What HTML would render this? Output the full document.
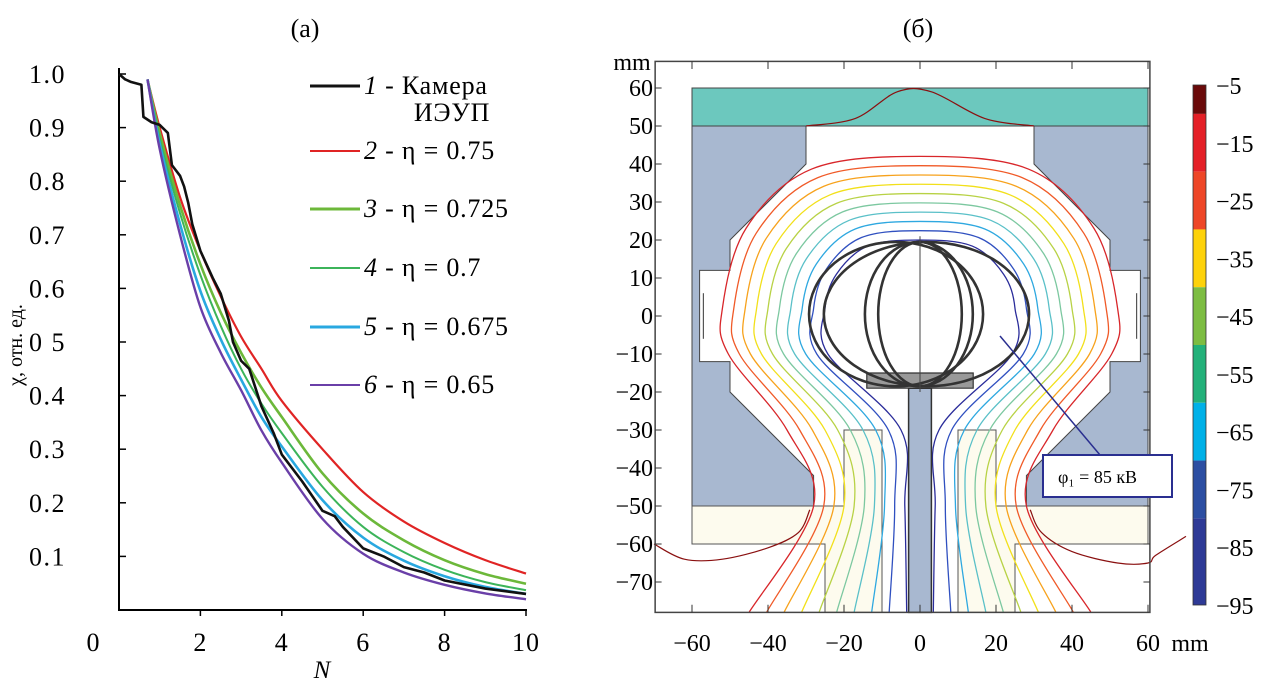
<!DOCTYPE html>
<html><head><meta charset="utf-8">
<style>
body{margin:0;background:#fff;}
svg{display:block;font-family:"Liberation Serif",serif;}
</style></head>
<body>
<svg id="root" width="1275" height="695" viewBox="0 0 1275 695" xmlns="http://www.w3.org/2000/svg">
<text x="305" y="37" font-size="26" text-anchor="middle">(а)</text>
<text x="918" y="37" font-size="26" text-anchor="middle">(б)</text>
<g id="chartA"></g>
<g id="chartB"></g>
</svg>
<script>
const NS="http://www.w3.org/2000/svg";
function mk(parent,tag,attrs,text){const e=document.createElementNS(NS,tag);for(const k in attrs)e.setAttribute(k,attrs[k]);if(text!==undefined)e.textContent=text;parent.appendChild(e);return e;}

// ---------- Panel (a) data ----------
const nValues=[0.7,1,1.5,2,2.5,3,3.5,4,5,6,7,8,9,10];
const eta075=[0.99,0.9,0.77,0.67,0.585,0.51,0.45,0.39,0.3,0.22,0.165,0.125,0.093,0.068];
const eta0725=[0.99,0.89,0.755,0.645,0.555,0.48,0.415,0.36,0.255,0.18,0.13,0.093,0.067,0.049];
const eta07=[0.99,0.88,0.74,0.625,0.53,0.45,0.385,0.33,0.23,0.155,0.108,0.075,0.052,0.037];
const eta0675=[0.99,0.87,0.72,0.595,0.505,0.43,0.36,0.305,0.205,0.135,0.092,0.063,0.043,0.03];
const eta065=[0.99,0.86,0.7,0.565,0.48,0.41,0.335,0.275,0.17,0.105,0.07,0.047,0.031,0.02];
const chamberN=[0,0.15,0.3,0.55,0.6,0.8,1.0,1.2,1.3,1.5,1.6,1.7,1.8,2,2.3,2.5,2.7,2.8,3,3.2,3.5,3.8,4,4.5,5,5.3,5.5,6,6.5,7,7.5,8,9,10];
const chamberV=[1.0,0.99,0.985,0.98,0.92,0.91,0.905,0.89,0.83,0.81,0.79,0.76,0.72,0.67,0.62,0.59,0.54,0.5,0.465,0.45,0.38,0.33,0.29,0.24,0.185,0.175,0.155,0.115,0.1,0.08,0.07,0.055,0.04,0.03];
const xTicksA=[2,4,6,8,10];
const yTicksA=[0.1,0.2,0.3,0.4,0.5,0.6,0.7,0.8,0.9,1.0];
const yTickLabelsA=["0.1","0.2","0.3","0.4","0 5","0.6","0.7","0.8","0.9","1.0"];

const ax=v=>119+v*40.7, ay=v=>610-v*536;
const A=document.getElementById('chartA');
let e=mk(A,'line',{x1:119,y1:68,x2:119,y2:611,stroke:'#000','stroke-width':2});


e=mk(A,'line',{x1:118,y1:610,x2:527,y2:610,stroke:'#000','stroke-width':2});


yTicksA.forEach((t,i)=>{
  const y=ay(t);
  mk(A,'line',{x1:119,y1:y,x2:126,y2:y,stroke:'#000','stroke-width':1.5});
  const l=mk(A,'text',{x:66,y:y+9,'font-size':26,'letter-spacing':1.5,'text-anchor':'end'},yTickLabelsA[i]);
  
  
});
xTicksA.forEach(t=>{
  const x=ax(t);
  mk(A,'line',{x1:x,y1:610,x2:x,y2:616,stroke:'#000','stroke-width':1.5});
  const l=mk(A,'text',{x:x,y:651,'font-size':26,'letter-spacing':1,'text-anchor':'middle'},String(t));
  
  
});
e=mk(A,'text',{x:93,y:651,'font-size':26,'text-anchor':'middle'},'0');


e=mk(A,'text',{x:322,y:678,'font-size':25,'font-style':'italic','text-anchor':'middle'},'N');


e=mk(A,'text',{x:0,y:0,'font-size':20,'text-anchor':'middle',transform:'translate(22,345) rotate(-90)'},'χ, отн. ед.');



const seriesList=[
 {vals:eta075,color:'#e02424',w:2.2,name:'curve-eta-075'},
 {vals:eta0725,color:'#6cb83a',w:2.6,name:'curve-eta-0725'},
 {vals:eta07,color:'#3cb45a',w:2,name:'curve-eta-07'},
 {vals:eta0675,color:'#29a8e0',w:2.6,name:'curve-eta-0675'},
 {vals:eta065,color:'#6a3fa8',w:2.4,name:'curve-eta-065'}];
function spline(p){
  let d='M'+p[0][0]+','+p[0][1];
  for(let i=0;i<p.length-1;i++){
    const p0=p[i-1]||p[i],p1=p[i],p2=p[i+1],p3=p[i+2]||p2;
    const c1=[p1[0]+(p2[0]-p0[0])/6,p1[1]+(p2[1]-p0[1])/6];
    const c2=[p2[0]-(p3[0]-p1[0])/6,p2[1]-(p3[1]-p1[1])/6];
    d+=` C${c1[0]},${c1[1]} ${c2[0]},${c2[1]} ${p2[0]},${p2[1]}`;
  }
  return d;
}
seriesList.forEach(s=>{
  const p=mk(A,'path',{d:spline(nValues.map((x,i)=>[ax(x),ay(s.vals[i])])),fill:'none',stroke:s.color,'stroke-width':s.w});
  
  
});
{
  let d='';
  chamberN.forEach((n,i)=>{d+=(i?'L':'M')+ax(n)+','+ay(chamberV[i]);});
  const p=mk(A,'path',{d:d,fill:'none',stroke:'#111','stroke-width':2.6,'stroke-linejoin':'round'});
  
  
}
const legendItems=[
 {y:86,color:'#111',num:'1',txt:' - Камера',w:3},
 {y:151,color:'#e02424',num:'2',txt:' - η = 0.75',w:2},
 {y:209,color:'#6cb83a',num:'3',txt:' - η = 0.725',w:3},
 {y:268,color:'#3cb45a',num:'4',txt:' - η = 0.7',w:2},
 {y:327,color:'#29a8e0',num:'5',txt:' - η = 0.675',w:3},
 {y:385,color:'#6a3fa8',num:'6',txt:' - η = 0.65',w:2}];
legendItems.forEach(it=>{
  const g=mk(A,'g',{});
  
  
  mk(g,'line',{x1:310,y1:it.y,x2:360,y2:it.y,stroke:it.color,'stroke-width':it.w});
  const t=mk(g,'text',{x:364,y:it.y+8,'font-size':26,'letter-spacing':0.8});
  mk(t,'tspan',{'font-style':'italic'},it.num);
  mk(t,'tspan',{},it.txt);
});
e=mk(A,'text',{x:452,y:121,'font-size':26,'letter-spacing':0.8,'text-anchor':'middle'},'ИЭУП');



// ---------- Panel (b) ----------
const B=document.getElementById('chartB');
const X=mm=>920+3.8*mm, Y=mm=>316-3.8*mm;
const xTicksB=[-60,-40,-20,0,20,40,60];
const yTicksB=[60,50,40,30,20,10,0,-10,-20,-30,-40,-50,-60,-70];
const contourLevels=[-15,-25,-35,-45,-50,-55,-60,-65,-75,-85];
const contourColors=['#d8262a','#f05a28','#f7a21c','#f2e01a','#b8d245','#7cc8a0','#5ac0c8','#2ea8e0','#3050c0','#2a2c9a'];
const colorbarLabels=[-5,-15,-25,-35,-45,-55,-65,-75,-85,-95];
const colorbarColors=['#6a0a0a','#e42027','#ee4627','#fdd20a','#7dbd42','#23b17a','#00b1e8','#2c4ea2','#2e3a96'];

const poly=(pts,attrs,name)=>{const p=mk(B,'polygon',Object.assign({points:pts.map(q=>X(q[0])+','+Y(q[1])).join(' ')},attrs));return p;};
poly([[-60,60],[60,60],[60,-60],[25,-60],[25,-78],[-25,-78],[-25,-60],[-60,-60]],{fill:'#fff',stroke:'#555','stroke-width':1},'domain-outline');
const leftGrey=[[-60,50],[-30,50],[-30,40],[-50,20],[-50,12],[-58,12],[-58,-12],[-50,-12],[-50,-20],[-28,-42],[-28,-50],[-60,-50]];
poly(leftGrey,{fill:'#a8b8d0',stroke:'#444','stroke-width':1},'left-electrode');
poly(leftGrey.map(q=>[-q[0],q[1]]),{fill:'#a8b8d0',stroke:'#444','stroke-width':1},'right-electrode');
poly([[-60,60],[60,60],[60,50],[-60,50]],{fill:'#6cc8be',stroke:'#444','stroke-width':1},'top-electrode');
const leftCream=[[-60,-50],[-20,-50],[-20,-30],[-10,-30],[-10,-78],[-25,-78],[-25,-60],[-60,-60]];
poly(leftCream,{fill:'#fdfbee',stroke:'#555','stroke-width':1},'left-insulator');
poly(leftCream.map(q=>[-q[0],q[1]]),{fill:'#fdfbee',stroke:'#555','stroke-width':1},'right-insulator');
[-1,1].forEach(s=>{const l=mk(B,'line',{x1:X(57*s),y1:Y(6),x2:X(57*s),y2:Y(-6),stroke:'#555','stroke-width':1.2});});
// outer dark-red contour pieces
[
 [[-30,50],[-17,52],[-6,59],[3,59],[17,52],[30,50]],
 [[-70,-60],[-62,-64],[-52,-64],[-40,-61],[-32,-57],[-29,-51]],
 [[29,-51],[32,-57],[40,-62],[52,-65],[60,-65],[62,-63],[70,-58]]
].forEach(pts=>{
  const p=mk(B,'path',{d:spline(pts.map(q=>[X(q[0]),Y(q[1])])),fill:'none',stroke:'#8a1010','stroke-width':1.2});
  
  
});
contourLevels.forEach((lv,i)=>{
  const t=i/(contourLevels.length-1);
  const top=42-22*t, mW=52-27*t;
  const w30=35-30*t, w50=28-24*t, wb=45-41.5*t;
  const half=[[wb,-78],[w50,-50],[w30,-30],[mW*0.97,-10],[mW,2],[mW*0.88,top*0.55],[mW*0.55,top*0.92],[0,top]];
  const pts=half.map(q=>[-q[0],q[1]]).concat(half.slice(0,-1).reverse());
  const p=mk(B,'path',{d:spline(pts.map(q=>[X(q[0]),Y(q[1])])),fill:'none',stroke:contourColors[i],'stroke-width':1.3});
  
  
});
poly([[-3,-19],[3,-19],[3,-78],[-3,-78]],{fill:'#a8b8d0',stroke:'#333','stroke-width':1.5},'center-stem');
poly([[-14,-15],[14,-15],[14,-19],[-14,-19]],{fill:'#999',stroke:'#333','stroke-width':1.2},'focus-plate');
[[-6.3,22.9,19],[1.7,27,19],[-0.3,14.2,19],[0,11,19]].forEach(c=>{
  const el=mk(B,'ellipse',{cx:X(c[0]),cy:Y(0.5),rx:c[1]*3.8,ry:c[2]*3.8,fill:'none',stroke:'#333','stroke-width':2.6});
  
  
});
e=mk(B,'line',{x1:X(0),y1:Y(21),x2:X(0),y2:Y(-20),stroke:'#444','stroke-width':1});


e=mk(B,'rect',{x:X(-69.7),y:Y(67),width:X(60.5)-X(-69.7),height:Y(-78)-Y(67),fill:'none',stroke:'#444','stroke-width':1.5});


xTicksB.forEach(t=>{
  mk(B,'line',{x1:X(t),y1:Y(-78),x2:X(t),y2:Y(-76),stroke:'#333'});
  mk(B,'line',{x1:X(t),y1:Y(67),x2:X(t),y2:Y(65),stroke:'#333'});
  const l=mk(B,'text',{x:X(t),y:651,'font-size':24,'text-anchor':'middle'},t<0?'−'+(-t):String(t));
  
  
});
e=mk(B,'text',{x:1190,y:651,'font-size':24,'text-anchor':'middle'},'mm');


yTicksB.forEach(t=>{
  mk(B,'line',{x1:X(-69.7),y1:Y(t),x2:X(-68),y2:Y(t),stroke:'#333'});
  mk(B,'line',{x1:X(60.5),y1:Y(t),x2:X(58.8),y2:Y(t),stroke:'#333'});
  const l=mk(B,'text',{x:653,y:Y(t)+8,'font-size':24,'text-anchor':'end'},t<0?'−'+(-t):String(t));
  
  
});
e=mk(B,'text',{x:632,y:70,'font-size':24,'text-anchor':'middle'},'mm');


e=mk(B,'line',{x1:1000,y1:336,x2:1100,y2:455,stroke:'#2a2f90','stroke-width':1.5});


e=mk(B,'rect',{x:1043,y:455,width:129,height:42,fill:'#fff',stroke:'#2a2f90','stroke-width':2});


e=mk(B,'text',{x:1058,y:483,'font-size':18},'φ₁ = 85 кВ');


const cbTop=85, cbBot=605, cbStep=(cbBot-cbTop)/9;
colorbarColors.forEach((c,i)=>{
  const y0=i===0?cbTop:cbTop+cbStep*(i-0.5);
  const y1=i===8?cbBot:cbTop+cbStep*(i+0.5);
  const r=mk(B,'rect',{x:1193,y:y0,width:13,height:y1-y0,fill:c});
  
  
});
e=mk(B,'rect',{x:1193,y:cbTop,width:13,height:cbBot-cbTop,fill:'none',stroke:'#333','stroke-width':0.8});


colorbarLabels.forEach((v,i)=>{
  const l=mk(B,'text',{x:1216,y:cbTop+cbStep*i+9,'font-size':24},'−'+(-v));
  
  
});
</script>
</body></html>
